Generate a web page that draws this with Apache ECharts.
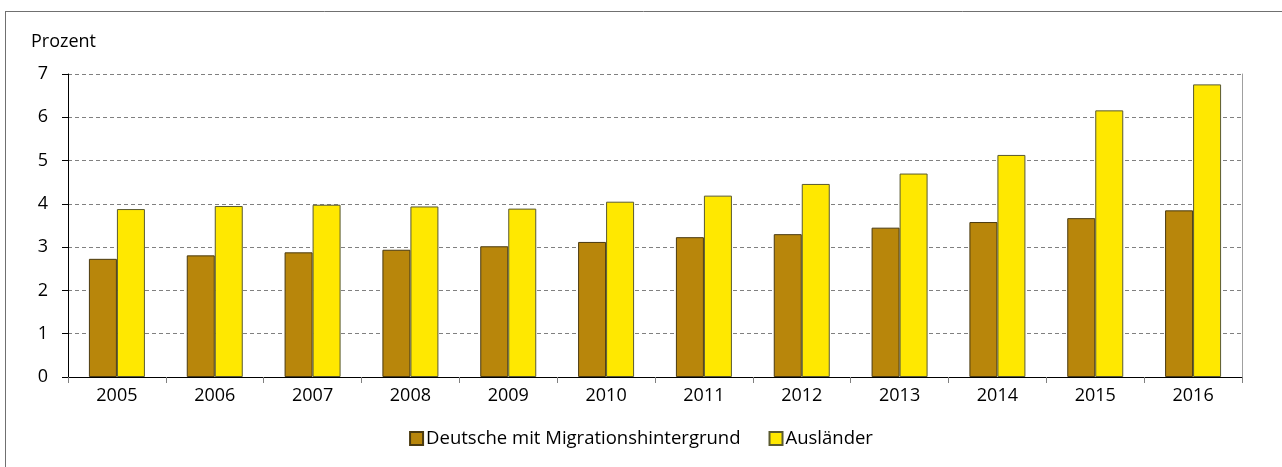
<!DOCTYPE html>
<html><head><meta charset="utf-8">
<script src="https://cdn.jsdelivr.net/npm/echarts@6/dist/echarts.min.js"></script>
<style>html,body{margin:0;padding:0;background:#fff}#c{width:1282px;height:467px}</style>
</head><body><div id="c"></div>
<script>
const years = ['2005','2006','2007','2008','2009','2010','2011','2012','2013','2014','2015','2016'];
const deutscheMig = [2.73,2.81,2.88,2.94,3.02,3.12,3.23,3.30,3.45,3.58,3.67,3.85];
const auslaender = [3.88,3.95,3.98,3.94,3.89,4.05,4.19,4.46,4.70,5.13,6.16,6.76];
const yTicks = [0,1,2,3,4,5,6,7];
const F = '"Open Sans", "Noto Sans", sans-serif';
const chart = echarts.init(document.getElementById('c'));
chart.setOption({
  animation:false,
  textStyle:{fontFamily:F},
  title:{text:'Prozent',left:26,top:28,textStyle:{fontFamily:F,fontSize:18,fontWeight:'normal',color:'#000'}},
  grid:{left:68,right:40,top:74,bottom:90},
  legend:{bottom:14,left:'center',itemWidth:13,itemHeight:13,itemGap:28,icon:'rect',
    textStyle:{fontFamily:F,fontSize:18.5,color:'#000',padding:[0,0,0,-2]},
    data:['Deutsche mit Migrationshintergrund','Ausländer']},
  xAxis:{type:'category',data:years,
    axisLine:{lineStyle:{color:'#000',width:1}},
    axisTick:{show:true,alignWithLabel:false,length:6,lineStyle:{color:'#808080'}},
    axisLabel:{fontFamily:F,fontSize:18,color:'#000',margin:10}},
  yAxis:[{type:'value',min:0,max:7,interval:1,
    axisLine:{show:true,lineStyle:{color:'#000',width:1}},
    axisTick:{show:true,length:6,lineStyle:{color:'#000'}},
    axisLabel:{fontFamily:F,fontSize:18,color:'#000',margin:20,formatter:v=>yTicks.includes(v)?String(v):''},
    splitLine:{show:true,lineStyle:{color:'#808080',type:[4,3],width:1}}},
   {type:'value',min:0,max:7,interval:1,position:'right',
    axisLine:{show:true,lineStyle:{color:'#a0a0a0',width:1}},
    axisTick:{show:false},axisLabel:{show:false},splitLine:{show:false}}],
  series:[
    {name:'Deutsche mit Migrationshintergrund',type:'bar',data:deutscheMig,barWidth:28,barGap:'0%',
     itemStyle:{color:'#B8860B',borderColor:'#4a3a10',borderWidth:1}},
    {name:'Ausländer',type:'bar',data:auslaender,barWidth:28,barGap:'0%',
     itemStyle:{color:'#FFE800',borderColor:'#5a5a30',borderWidth:1}}
  ],
  graphic:[
    {type:'line',shape:{x1:5.5,y1:11,x2:5.5,y2:467},style:{stroke:'#707070',lineWidth:1}},
    {type:'line',shape:{x1:5,y1:11.5,x2:1282,y2:11.5},style:{stroke:'#707070',lineWidth:1}}
  ]
});
</script></body></html>
